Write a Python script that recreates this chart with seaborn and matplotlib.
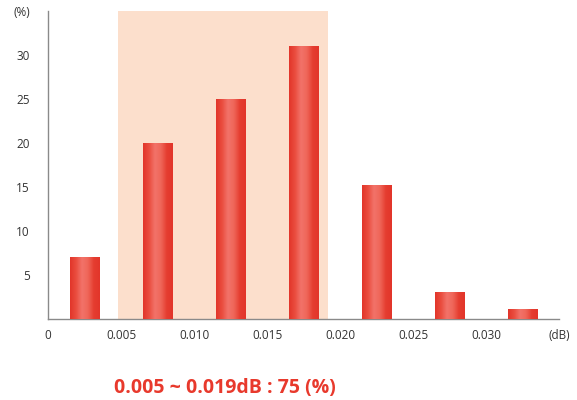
import matplotlib
matplotlib.use("Agg")
import matplotlib.pyplot as plt
import seaborn as sns
import numpy as np
import pandas as pd
from matplotlib.colors import LinearSegmentedColormap

# data
bin_centers = [0.0025, 0.0075, 0.0125, 0.0175, 0.0225, 0.0275, 0.0325]
percent = [7.0, 20.0, 25.0, 31.0, 15.2, 3.1, 1.1]
x_ticks = [0, 0.005, 0.010, 0.015, 0.020, 0.025, 0.030, 0.035]
x_tick_labels = ["0", "0.005", "0.010", "0.015", "0.020", "0.025", "0.030", "(dB)"]
y_ticks = [5, 10, 15, 20, 25, 30, 35]
y_tick_labels = ["5", "10", "15", "20", "25", "30", "(%)"]
span = (0.0048, 0.0192)
note = "0.005 ~ 0.019dB : 75 (%)"

sns.set_style("white")
plt.rcParams['font.family'] = ['Open Sans', 'DejaVu Sans']

fig = plt.figure(figsize=(5.77, 4.0), dpi=100)
ax = fig.add_axes([0.0832, 0.2025, 0.8856, 0.77])

df = pd.DataFrame({"x": bin_centers, "y": percent})
ax.axvspan(span[0], span[1], color="#fcdfcc", zorder=0, lw=0)
sns.barplot(data=df, x="x", y="y", native_scale=True, width=0.4, ax=ax,
            color="#e8392c", saturation=1, zorder=2)

cmap = LinearSegmentedColormap.from_list(
    "bar", ["#e2352a", "#ea4d3f", "#f2736a", "#ef6659", "#e53d30", "#e2352a"])
grad = np.linspace(0, 1, 64).reshape(1, -1)
for p in list(ax.containers[0]):
    x0, y0 = p.get_x(), p.get_y()
    w, h = p.get_width(), p.get_height()
    im = ax.imshow(grad, cmap=cmap, aspect="auto", extent=[x0, x0 + w, y0, y0 + h],
                   zorder=3, interpolation="bicubic")
    im.set_clip_path(p)
    p.set_facecolor("none")
    p.set_edgecolor("none")

ax.set_xlim(0, 0.035)
ax.set_ylim(0, 35)
ax.set_xticks(x_ticks)
ax.set_xticklabels(x_tick_labels)
ax.set_yticks(y_ticks)
ax.set_yticklabels(y_tick_labels)
ax.set_xlabel("")
ax.set_ylabel("")
for s in ["top", "right"]:
    ax.spines[s].set_visible(False)
for s in ["left", "bottom"]:
    ax.spines[s].set_color("#8a8a8a")
    ax.spines[s].set_linewidth(1.0)
ax.tick_params(axis="both", direction="out", length=4, width=1, color="#8a8a8a",
               labelsize=8.5, labelcolor="#333333")
ax.tick_params(axis="x", pad=3)
ax.tick_params(axis="y", pad=9)

fig.text(0.197, 0.006, note, color="#e8392c", fontsize=14, fontweight="bold",
         ha="left", va="bottom")

fig.savefig("out.png", dpi=100)
